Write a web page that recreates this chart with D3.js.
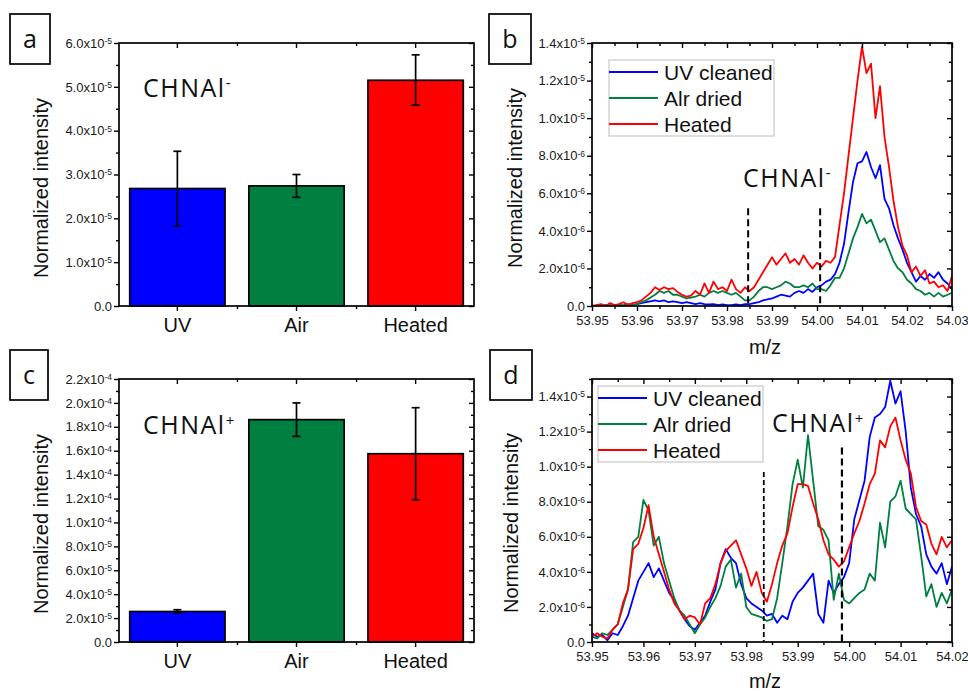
<!DOCTYPE html>
<html lang="en">
<head>
<meta charset="UTF-8">
<title>CHNAl intensities</title>
<script src="https://d3js.org/d3.v7.min.js"></script>
<style>
  body { margin: 0; background: #fff; }
  svg { display: block; }
  .axis .tick text { font-family: Arial, "Liberation Sans", sans-serif; font-size: 13px; fill: #1a1a1a; }
  .axis .tick line { stroke: #000; stroke-width: 1.4px; }
  .axis path.domain { display: none; }
  .frame { fill: none; stroke: #000; stroke-width: 1.7px; }
  .ylabel, .xlabel, .cat { font-family: Arial, "Liberation Sans", sans-serif; font-size: 20px; fill: #111; }
  .legend text { font-family: Arial, "Liberation Sans", sans-serif; font-size: 21px; fill: #111; }
  .species { font-family: "Open Sans", sans-serif; font-size: 25px; letter-spacing: 1.5px; fill: #111; }
  .panel-id { font-family: "Open Sans", sans-serif; font-size: 25px; fill: #111; }
</style>
</head>
<body>
<svg width="968" height="691"></svg>
<script>
// ---- bar panels (a: CHNAl-, c: CHNAl+) ----
const groups = ["UV", "Air", "Heated"];
const barColors = ["#0000ff", "#008040", "#ff0000"];

const aMean = [2.68e-5, 2.74e-5, 5.15e-5];
const aLow  = [1.82e-5, 2.48e-5, 4.58e-5];
const aHigh = [3.53e-5, 3.00e-5, 5.73e-5];
const aTicks = [0, 1e-5, 2e-5, 3e-5, 4e-5, 5e-5, 6e-5];
const aTickLabels = ["0.0", "1.0x10^-5", "2.0x10^-5", "3.0x10^-5", "4.0x10^-5", "5.0x10^-5", "6.0x10^-5"];

const cMean = [2.55e-5, 1.86e-4, 1.575e-4];
const cLow  = [2.42e-5, 1.72e-4, 1.19e-4];
const cHigh = [2.70e-5, 2.00e-4, 1.96e-4];
const cTicks = [0, 2e-5, 4e-5, 6e-5, 8e-5, 1e-4, 1.2e-4, 1.4e-4, 1.6e-4, 1.8e-4, 2e-4, 2.2e-4];
const cTickLabels = ["0.0", "2.0x10^-5", "4.0x10^-5", "6.0x10^-5", "8.0x10^-5", "1.0x10^-4", "1.2x10^-4",
  "1.4x10^-4", "1.6x10^-4", "1.8x10^-4", "2.0x10^-4", "2.2x10^-4"];

// ---- spectra (intensity in units of 1e-6), m/z step 0.001 ----
const seriesNames = ["UV cleaned", "Alr dried", "Heated"];
const lineColors = ["#0000ff", "#008040", "#ff0000"];

const bMz = d3.range(81).map(i => 53.95 + i * 0.001);
const bBlue = [
  0.0, 0.02, 0.0, 0.05, 0.0, 0.03, 0.05, 0.0, 0.08, 0.05, 0.1,
  0.15, 0.2, 0.25, 0.3, 0.25, 0.3, 0.2, 0.25, 0.2, 0.15,
  0.2, 0.15, 0.1, 0.15, 0.1, 0.08, 0.1, 0.05, 0.08, 0.05,
  0.05, 0.08, 0.05, 0.1, 0.1, 0.15, 0.2, 0.3, 0.35, 0.4,
  0.5, 0.6, 0.55, 0.5, 0.7, 0.8, 0.7, 0.9, 0.75, 1.0,
  1.1, 1.3, 1.4, 1.7, 2.3, 3.3, 5.0, 6.6, 7.6, 7.7,
  8.2, 7.4, 6.8, 7.5, 5.7, 5.2, 4.3, 3.6, 3.0, 2.3,
  1.8, 1.3, 1.6, 1.4, 1.7, 1.5, 1.8, 1.4, 1.2, 0.9
];
const bGreen = [
  0.0, 0.0, 0.05, 0.0, 0.05, 0.0, 0.05, 0.05, 0.1, 0.05, 0.1,
  0.2, 0.3, 0.45, 0.6, 0.8, 0.7, 0.8, 0.6, 0.6, 0.5,
  0.4, 0.45, 0.5, 0.6, 0.5, 0.7, 0.8, 0.7, 0.8, 0.7,
  0.6, 0.7, 0.5, 0.3, 0.3, 0.5, 0.8, 1.0, 1.0, 0.9,
  1.0, 1.1, 1.3, 1.2, 1.0, 1.0, 1.1, 1.0, 1.2, 0.9,
  0.9, 0.8, 1.1, 1.5, 1.5, 2.0, 2.8, 3.6, 4.2, 4.9,
  4.4, 4.6, 4.0, 3.4, 3.6, 3.0, 2.4, 2.0, 1.8, 1.4,
  1.2, 0.9, 0.8, 0.6, 0.7, 0.5, 0.7, 0.5, 0.6, 0.7
];
const bRed = [
  0.0, 0.05, 0.1, 0.0, 0.15, 0.05, 0.1, 0.2, 0.05, 0.15, 0.2,
  0.3, 0.5, 0.7, 1.0, 0.85, 1.0, 0.9, 0.95, 0.75, 0.6,
  0.5, 0.55, 0.8, 0.6, 1.2, 0.7, 1.3, 0.9, 1.0, 0.8,
  1.4, 0.9, 0.7, 1.0, 0.8, 1.0, 1.4, 1.8, 2.2, 2.6,
  2.2, 2.5, 2.8, 2.3, 2.5, 2.2, 2.7, 2.3, 2.0, 2.3,
  2.1, 2.4, 2.3, 2.6, 4.3, 6.0, 8.0, 10.0, 12.0, 13.8,
  12.4, 12.9, 10.0, 11.7, 9.0, 7.4, 5.6, 4.2, 3.2, 2.7,
  1.8, 2.1, 1.6, 1.9, 1.2, 1.3, 1.0, 1.1, 0.8, 1.6
];
const bXTicks = [53.95, 53.96, 53.97, 53.98, 53.99, 54.00, 54.01, 54.02, 54.03];
const bXLabels = ["53.95", "53.96", "53.97", "53.98", "53.99", "54.00", "54.01", "54.02", "54.03"];
const bYTicks = [0, 2, 4, 6, 8, 10, 12, 14];
const bYLabels = ["0.0", "2.0x10^-6", "4.0x10^-6", "6.0x10^-6", "8.0x10^-6", "1.0x10^-5", "1.2x10^-5", "1.4x10^-5"];
const bDashes = [[53.9847, 5.2, "7,4", 2], [54.0007, 5.2, "7,4", 2]];

const dMz = d3.range(71).map(i => 53.95 + i * 0.001);
const dBlue = [
  0.5, 0.3, 0.4, 0.1, 0.5, 0.4, 0.9, 1.5, 2.5, 3.5, 4.0,
  4.5, 3.7, 4.2, 3.5, 2.8, 2.4, 1.8, 1.3, 0.9, 0.7,
  1.1, 1.5, 2.3, 3.0, 4.5, 5.3, 4.8, 4.5, 3.3, 2.5,
  2.2, 2.0, 1.8, 1.5, 1.6, 1.1, 1.5, 1.3, 2.3, 2.8,
  3.1, 3.5, 3.9, 1.6, 1.1, 3.5, 2.8, 3.3, 3.7, 4.5,
  7.0, 8.1, 9.2, 11.7, 12.8, 13.0, 13.4, 14.9, 13.6, 14.3,
  12.0, 8.8, 7.3, 6.6, 5.0, 4.3, 3.9, 4.5, 3.3, 4.3
];
const dGreen = [
  0.3, 0.2, 0.5, 0.4, 0.7, 1.0, 2.0, 3.0, 5.7, 6.0, 8.1,
  7.5, 5.5, 6.0, 4.5, 3.5, 2.5, 1.8, 1.5, 1.0, 0.5,
  1.0, 1.4, 2.0, 2.5, 3.2, 4.3, 4.7, 3.1, 3.9, 2.0,
  1.6, 1.5, 1.4, 1.2, 1.3, 2.5, 4.5, 6.6, 9.0, 10.4,
  8.8, 11.8, 9.2, 6.6, 6.4, 5.8, 2.4, 3.9, 2.4, 2.2,
  2.5, 2.8, 3.0, 3.9, 3.5, 6.8, 5.4, 8.0, 8.3, 9.2,
  7.6, 7.3, 7.0, 4.9, 2.6, 3.3, 2.0, 2.8, 2.2, 3.0
];
const dRed = [
  0.3, 0.5, 0.3, 0.2, 0.7, 1.0, 2.2, 3.0, 5.3, 5.6, 6.5,
  7.8, 6.0, 5.0, 4.0, 3.0, 2.2, 1.8, 1.3, 1.5, 1.4,
  1.0, 2.2, 2.5, 3.3, 4.5, 5.2, 5.5, 5.8, 5.0, 4.2,
  3.2, 4.0, 2.8, 2.3, 3.3, 4.5, 5.5, 6.2, 7.7, 9.0,
  9.0, 8.9, 7.9, 7.0, 5.8, 5.0, 4.7, 4.3, 4.6, 5.4,
  6.2, 6.9, 7.9, 9.0, 9.6, 11.5, 11.1, 12.3, 12.8, 11.5,
  10.4, 9.6, 7.7, 6.9, 6.7, 5.6, 5.0, 6.0, 5.4, 5.8
];
const dXTicks = [53.95, 53.96, 53.97, 53.98, 53.99, 54.00, 54.01, 54.02];
const dXLabels = ["53.95", "53.96", "53.97", "53.98", "53.99", "54.00", "54.01", "54.02"];
const dYTicks = [0, 2, 4, 6, 8, 10, 12, 14];
const dYLabels = bYLabels;
const dDashes = [[53.9834, 9.7, "5,3", 1.8], [53.9986, 11.1, "7,4", 2.2]];

const svg = d3.select("svg");
const W = 355, H = 263;

function supLabels(sel, labels) {
  sel.selectAll(".tick text").each(function(d, i) {
    const parts = labels[i].split("^");
    const t = d3.select(this).text(parts[0]);
    if (parts[1]) t.append("tspan").attr("dy", "-0.45em").attr("font-size", "8.5px").text(parts[1]);
  });
}

function panelId(x, y, w, letter) {
  svg.append("rect").attr("class", "frame").attr("x", x).attr("y", y).attr("width", w).attr("height", 50);
  svg.append("text").attr("class", "panel-id").attr("x", x + w / 2).attr("y", y + 34)
    .attr("text-anchor", "middle").text(letter);
}

function species(g, x, y, sign) {
  const t = g.append("text").attr("class", "species").attr("x", x).attr("y", y).text("CHNAl");
  t.append("tspan").attr("dy", sign === "+" ? "-0.55em" : "-0.6em").attr("font-size", "15px")
    .attr("letter-spacing", "0").text(sign);
}

function yLabel(bx, cy) {
  svg.append("text").attr("class", "ylabel").attr("text-anchor", "middle")
    .attr("transform", `translate(${bx},${cy}) rotate(-90)`).text("Normalized intensity");
}

function barPanel(cfg) {
  const w = W;
  const g = svg.append("g").attr("transform", `translate(${cfg.left},${cfg.top})`);
  const x = d3.scaleBand().domain(groups).range([0, w]).paddingInner(0.2).paddingOuter(0.09);
  const y = d3.scaleLinear().domain([0, cfg.max]).range([H, 0]);
  const step = cfg.ticks[1] - cfg.ticks[0];
  const minorY = cfg.ticks.slice(0, -1).map(v => v + step / 2);
  const xs = d => x(d) + x.bandwidth() / 2;
  const minorX = groups.slice(0, -1).map((d, i) => (xs(d) + xs(groups[i + 1])) / 2);
  const xl = d3.scaleLinear().domain([0, w]).range([0, w]);

  g.selectAll("rect.bar").data(groups).join("rect")
    .attr("x", d => x(d)).attr("y", (d, i) => y(cfg.mean[i]))
    .attr("width", x.bandwidth()).attr("height", (d, i) => H - y(cfg.mean[i]))
    .attr("fill", (d, i) => barColors[i]).attr("stroke", "#000").attr("stroke-width", 1.7);

  const err = g.selectAll("g.err").data(groups).join("g").attr("stroke", "#000").attr("stroke-width", 1.7);
  err.append("line").attr("x1", xs).attr("x2", xs)
    .attr("y1", (d, i) => y(cfg.low[i])).attr("y2", (d, i) => y(cfg.high[i]));
  err.append("line").attr("x1", d => xs(d) - 4).attr("x2", d => xs(d) + 4)
    .attr("y1", (d, i) => y(cfg.low[i])).attr("y2", (d, i) => y(cfg.low[i]));
  err.append("line").attr("x1", d => xs(d) - 4).attr("x2", d => xs(d) + 4)
    .attr("y1", (d, i) => y(cfg.high[i])).attr("y2", (d, i) => y(cfg.high[i]));

  // axes
  const left = g.append("g").attr("class", "axis")
    .call(d3.axisLeft(y).tickValues(cfg.ticks).tickSize(5).tickPadding(2));
  supLabels(left, cfg.labels);
  g.append("g").attr("class", "axis").call(d3.axisLeft(y).tickValues(minorY).tickSize(3).tickFormat(""));
  g.append("g").attr("class", "axis").attr("transform", `translate(${w},0)`)
    .call(d3.axisRight(y).tickValues(cfg.ticks).tickSize(-5).tickFormat(""));
  g.append("g").attr("class", "axis").attr("transform", `translate(${w},0)`)
    .call(d3.axisRight(y).tickValues(minorY).tickSize(-3).tickFormat(""));

  g.append("g").attr("class", "axis").attr("transform", `translate(0,${H})`)
    .call(d3.axisBottom(x).tickSize(5).tickFormat(""));
  g.append("g").attr("class", "axis").attr("transform", `translate(0,${H})`)
    .call(d3.axisBottom(xl).tickValues(minorX).tickSize(3).tickFormat(""));
  g.append("g").attr("class", "axis").call(d3.axisTop(x).tickSize(-5).tickFormat(""));
  g.append("g").attr("class", "axis").call(d3.axisTop(xl).tickValues(minorX).tickSize(-3).tickFormat(""));

  g.selectAll("text.cat").data(groups).join("text").attr("class", "cat")
    .attr("x", xs).attr("y", H + 26).attr("text-anchor", "middle").text(d => d);

  g.append("rect").attr("class", "frame").attr("width", w).attr("height", H);
  species(g, 24, cfg.specY, cfg.sign);
}

function specPanel(cfg) {
  const w = 360;
  const g = svg.append("g").attr("transform", `translate(${cfg.left},${cfg.top})`);
  const x = d3.scaleLinear().domain([cfg.xTicks[0], cfg.xTicks[cfg.xTicks.length - 1]]).range([0, w]);
  const y = d3.scaleLinear().domain([0, cfg.yMax]).range([H, 0]);
  const minorX = cfg.xTicks.slice(0, -1).map(v => v + 0.005);
  const minorY = d3.range(1, cfg.yMax + 0.5, 2);

  g.append("clipPath").attr("id", "clip" + cfg.id).append("rect").attr("width", w).attr("height", H);
  const line = d3.line().x(d => x(d[0])).y(d => y(d[1]));
  const plot = g.append("g").attr("clip-path", `url(#clip${cfg.id})`);
  cfg.series.forEach((vals, k) => {
    plot.append("path").datum(vals.map((v, i) => [cfg.mz[i], v]))
      .attr("d", line).attr("fill", "none").attr("stroke", lineColors[k])
      .attr("stroke-width", 1.8).attr("stroke-linejoin", "round");
  });

  g.selectAll("line.dash").data(cfg.dashes).join("line")
    .attr("x1", d => x(d[0])).attr("x2", d => x(d[0]))
    .attr("y1", d => y(d[1])).attr("y2", H)
    .attr("stroke", "#000").attr("stroke-width", d => d[3]).attr("stroke-dasharray", d => d[2]);

  const left = g.append("g").attr("class", "axis")
    .call(d3.axisLeft(y).tickValues(cfg.yTicks).tickSize(5).tickPadding(2));
  supLabels(left, cfg.yLabels);
  g.append("g").attr("class", "axis").call(d3.axisLeft(y).tickValues(minorY).tickSize(3).tickFormat(""));
  g.append("g").attr("class", "axis").attr("transform", `translate(${w},0)`)
    .call(d3.axisRight(y).tickValues(cfg.yTicks).tickSize(-5).tickFormat(""));
  g.append("g").attr("class", "axis").attr("transform", `translate(${w},0)`)
    .call(d3.axisRight(y).tickValues(minorY).tickSize(-3).tickFormat(""));

  const bottom = g.append("g").attr("class", "axis").attr("transform", `translate(0,${H})`)
    .call(d3.axisBottom(x).tickValues(cfg.xTicks).tickSize(5).tickPadding(5));
  bottom.selectAll(".tick text").text((d, i) => cfg.xLabels[i]);
  g.append("g").attr("class", "axis").attr("transform", `translate(0,${H})`)
    .call(d3.axisBottom(x).tickValues(minorX).tickSize(3).tickFormat(""));
  g.append("g").attr("class", "axis").call(d3.axisTop(x).tickValues(cfg.xTicks).tickSize(-5).tickFormat(""));
  g.append("g").attr("class", "axis").call(d3.axisTop(x).tickValues(minorX).tickSize(-3).tickFormat(""));

  g.append("rect").attr("class", "frame").attr("width", w).attr("height", H);

  // legend
  const lg = g.append("g").attr("class", "legend").attr("transform", `translate(${cfg.legX},${cfg.legY})`);
  lg.append("rect").attr("width", 165).attr("height", 76).attr("fill", "#fff")
    .attr("stroke", "#c8c8c8").attr("stroke-width", 1.2);
  seriesNames.forEach((name, k) => {
    lg.append("line").attr("x1", 0).attr("x2", 49).attr("y1", 12 + k * 26).attr("y2", 12 + k * 26)
      .attr("stroke", lineColors[k]).attr("stroke-width", 2);
    lg.append("text").attr("x", 55).attr("y", 20 + k * 26).text(name);
  });

  species(g, cfg.specX, cfg.specY, cfg.sign);
  g.append("text").attr("class", "xlabel").attr("x", w / 2 - 7).attr("y", H + cfg.mzDy)
    .attr("text-anchor", "middle").text("m/z");
}

barPanel({ left: 119, top: 43, max: 6e-5, ticks: aTicks, labels: aTickLabels,
  mean: aMean, low: aLow, high: aHigh, specY: 54, sign: "-" });
barPanel({ left: 119, top: 379, max: 2.2e-4, ticks: cTicks, labels: cTickLabels,
  mean: cMean, low: cLow, high: cHigh, specY: 55, sign: "+" });

specPanel({ id: "b", left: 592, top: 43, mz: bMz, series: [bBlue, bGreen, bRed], yMax: 14,
  xTicks: bXTicks, xLabels: bXLabels, yTicks: bYTicks, yLabels: bYLabels, dashes: bDashes,
  legX: 17, legY: 17, specX: 151, specY: 144, sign: "-", mzDy: 48 });
specPanel({ id: "d", left: 592, top: 379, mz: dMz, series: [dBlue, dGreen, dRed], yMax: 15,
  xTicks: dXTicks, xLabels: dXLabels, yTicks: dYTicks, yLabels: dYLabels, dashes: dDashes,
  legX: 6, legY: 7, specX: 180, specY: 53, sign: "+", mzDy: 46 });

yLabel(48, 188);
yLabel(522, 178);
yLabel(48, 524);
yLabel(518, 523);

panelId(10, 14, 40, "a");
panelId(489, 14, 42, "b");
panelId(10, 350, 38, "c");
panelId(490, 350, 42, "d");
</script>
</body>
</html>
